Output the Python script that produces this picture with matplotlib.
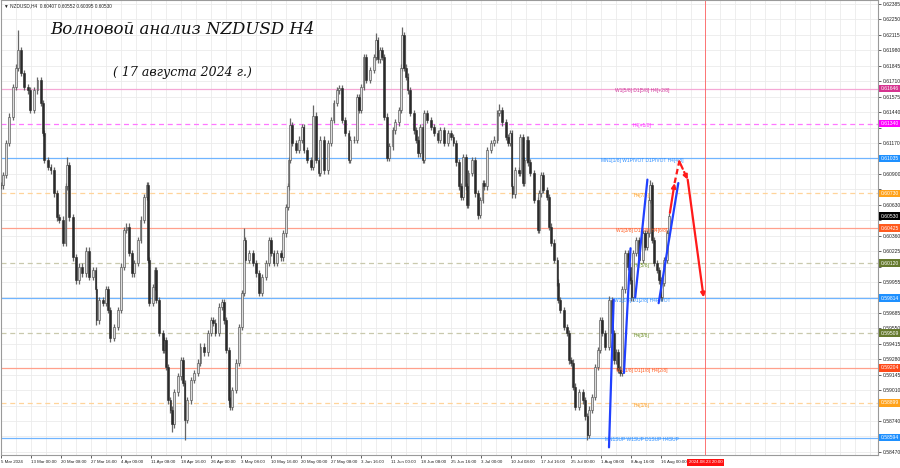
import matplotlib
matplotlib.use("Agg")
import matplotlib.pyplot as plt
import matplotlib.transforms as mtransforms
import numpy as np

# price path (H4 bar index from 5 Mar, close price)
bars = [0, 2, 5, 9, 13, 16, 18, 21, 25, 29, 31, 35, 39, 43, 45, 46, 50, 53, 57, 60, 62, 66, 69, 71, 73, 77, 80, 83,
        87, 91, 94, 98, 101, 102, 105, 109, 112, 114, 116, 121, 125, 128, 131, 134, 137, 140, 142, 146, 149, 153,
        156, 157, 158, 162, 164, 166, 169, 173, 174, 176, 178, 181, 183, 185, 189, 192,
        194, 196, 199, 203, 206, 210, 213, 217, 221, 224, 226, 229, 233, 236, 238, 240, 243, 244, 247, 251, 254,
        257, 259, 261, 265, 269, 272, 275, 279, 283, 286, 288, 291, 295, 299, 301, 304, 306, 307, 309, 311, 315,
        318, 321, 323, 327, 331, 333, 336, 339, 341, 345, 349, 352, 355, 359, 361, 364, 367, 371, 373,
        377, 380, 382, 384, 387, 390, 394, 398, 400, 402, 405, 407, 409, 412, 414, 418, 421, 425, 427, 428, 430,
        432, 434, 437, 441, 443, 445, 447, 450, 452, 455, 459, 462, 466, 469, 473, 477, 480, 483, 486, 489, 491,
        493, 496, 497, 499, 503, 506, 509, 511, 514, 516, 519, 523, 526, 530, 532, 535, 539, 541, 543, 545, 546,
        549, 553, 554, 557, 558, 561, 563,
        565, 569, 573, 574, 576, 579, 583, 585, 587, 590, 594, 595, 597, 601, 604, 606, 608, 611, 613, 617, 621,
        623, 626, 628, 631, 634, 637, 639, 642, 645, 649, 652, 654, 656, 659, 661, 663, 666, 669, 671, 673, 675,
        678, 681, 685, 687, 690, 692, 693, 695, 697, 700, 702, 704, 706, 708, 711, 713]
closes = [0.6080, 0.6089, 0.6117, 0.6140, 0.6166, 0.6183, 0.6198, 0.6178, 0.6166, 0.6163, 0.6146, 0.6163, 0.6172,
          0.6152, 0.6126, 0.6102, 0.6096, 0.6093, 0.6073, 0.6052, 0.6050, 0.6030, 0.6079, 0.6098, 0.6052, 0.6017,
          0.5997, 0.6009, 0.6003, 0.6023, 0.6000, 0.6006, 0.5989, 0.5962, 0.5980, 0.5977, 0.5989, 0.5971, 0.5947,
          0.5956, 0.5971, 0.6009, 0.6041, 0.6044, 0.6021, 0.6003, 0.6012, 0.6032, 0.6050, 0.6070, 0.6080, 0.6015,
          0.5977, 0.5991, 0.6006, 0.5980, 0.5951, 0.5936, 0.5945, 0.5921, 0.5892, 0.5884, 0.5871, 0.5899, 0.5913,
          0.5927,
          0.5907, 0.5875, 0.5892, 0.5910, 0.5916, 0.5925, 0.5939, 0.5934, 0.5951, 0.5962, 0.5960, 0.5951, 0.5974,
          0.5978, 0.5962, 0.5936, 0.5892, 0.5886, 0.5901, 0.5925, 0.5956, 0.5986, 0.6032, 0.6015, 0.6021, 0.6012,
          0.6003, 0.5986, 0.6000, 0.6012, 0.6032, 0.6021, 0.6012, 0.6021, 0.6017, 0.6038, 0.6061, 0.6079, 0.6102,
          0.6133, 0.6117, 0.6111, 0.6120, 0.6131, 0.6111, 0.6102, 0.6096, 0.6141, 0.6102, 0.6091, 0.6120, 0.6093,
          0.6117, 0.6137, 0.6152, 0.6163, 0.6165, 0.6137, 0.6126, 0.6102, 0.6120,
          0.6120, 0.6157, 0.6146, 0.6166, 0.6192, 0.6172, 0.6181, 0.6192, 0.6207, 0.6190, 0.6198, 0.6192, 0.6140,
          0.6104, 0.6114, 0.6128, 0.6135, 0.6146, 0.6183, 0.6211, 0.6183, 0.6175, 0.6163, 0.6143, 0.6128, 0.6120,
          0.6108, 0.6131, 0.6102, 0.6143, 0.6137, 0.6131, 0.6126, 0.6120, 0.6128, 0.6117, 0.6126, 0.6122, 0.6117,
          0.6100, 0.6079, 0.6070, 0.6105, 0.6079, 0.6063, 0.6091, 0.6102, 0.6073, 0.6054, 0.6067, 0.6082, 0.6079,
          0.6111, 0.6117, 0.6120, 0.6143, 0.6146, 0.6135, 0.6122, 0.6117, 0.6126, 0.6079, 0.6072, 0.6093, 0.6091,
          0.6122, 0.6082, 0.6102, 0.6120, 0.6100,
          0.6091, 0.6067, 0.6041, 0.6073, 0.6089, 0.6076, 0.6070, 0.6044, 0.6030, 0.6015, 0.5995, 0.5980, 0.5971,
          0.5956, 0.5951, 0.5927, 0.5925, 0.5904, 0.5886, 0.5899, 0.5892, 0.5878, 0.5862, 0.5884, 0.5895, 0.5921,
          0.5936, 0.5962, 0.5951, 0.5939, 0.5980, 0.5951, 0.5927, 0.5934, 0.5919, 0.5916, 0.5989, 0.6021, 0.6009,
          0.5997, 0.5982, 0.6021, 0.6032, 0.6015, 0.6038, 0.6026, 0.6038, 0.6067, 0.6080, 0.6032, 0.6012, 0.6006,
          0.5997, 0.5982, 0.5995, 0.6015, 0.6038, 0.6053]
# long wicks
spike_bars = [18, 71, 102, 116, 156, 183, 196, 259, 309, 333, 361, 400, 428, 497, 509, 532, 546, 626, 649, 661, 693]
spike_prices = [0.6216, 0.6105, 0.5958, 0.5943, 0.6082, 0.5864, 0.5857, 0.6043, 0.6139, 0.6150, 0.6168, 0.6213,
                0.6218, 0.6060, 0.6051, 0.6151, 0.6069, 0.5857, 0.5983, 0.5914, 0.6085]

date_labels = ["5 Mar 2024", "13 Mar 00:00", "20 Mar 08:00", "27 Mar 16:00", "4 Apr 00:00", "11 Apr 08:00",
               "18 Apr 16:00", "26 Apr 00:00", "3 May 08:00", "10 May 16:00", "20 May 00:00", "27 May 08:00",
               "3 Jun 16:00", "11 Jun 00:00", "18 Jun 08:00", "25 Jun 16:00", "3 Jul 00:00", "10 Jul 08:00",
               "17 Jul 16:00", "25 Jul 00:00", "1 Aug 08:00", "8 Aug 16:00", "16 Aug 00:00"]
price_ticks = [0.62385, 0.62250, 0.62115, 0.61980, 0.61845, 0.61710, 0.61575, 0.61440, 0.61305, 0.61170,
               0.61035, 0.60900, 0.60765, 0.60630, 0.60495, 0.60360, 0.60225, 0.60090, 0.59955, 0.59820,
               0.59685, 0.59550, 0.59415, 0.59280, 0.59145, 0.59010, 0.58875, 0.58740, 0.58605, 0.58470]

# Murrey levels
levels = [0.61646, 0.61340, 0.61035, 0.60730, 0.60425, 0.60120, 0.59814, 0.59509, 0.59204, 0.58899, 0.58594]
level_names = ["W1[5/8] D1[5/8] H4[+2/8]", "H4[+1/8]", "MN1[1/8] W1PIVOT D1PIVOT H4[4/8]", "H4[7/8]",
               "W1[3/8] D1[3/8] H4[6/8]", "H4[5/8]", "W1[2/8] D1[2/8] H4PIVOT", "H4[3/8]",
               "W1[1/8] D1[1/8] H4[2/8]", "H4[1/8]", "MN1SUP W1SUP D1SUP H4SUP"]
line_colors = ["#f5a8d6", "#ff77ff", "#70b5ff", "#ffd49a", "#ffa08c", "#c9c9ad",
               "#70b5ff", "#c9c9ad", "#ffa08c", "#ffd49a", "#70b5ff"]
line_styles = ["-", "--", "-", "--", "-", "--", "-", "--", "-", "--", "-"]
text_colors = ["#d0379a", "#ff33ff", "#2f8fff", "#ff9c1a", "#ff5a1e", "#6b8e23",
               "#2f8fff", "#6b8e23", "#ff5a1e", "#ff9c1a", "#2f8fff"]
box_colors = ["#d6338f", "#ff00ff", "#1e90ff", "#ffa21a", "#ff5a1e", "#667a2e",
              "#1e90ff", "#667a2e", "#ff4a1a", "#ffa21a", "#1e90ff"]

last_price = 0.60530

# wave marks
blue_x = [[649, 654], [665, 672], [677, 690], [702, 723]]
blue_y = [[0.5851, 0.5980], [0.5916, 0.6025], [0.5982, 0.6085], [0.5977, 0.6082]]
red_x = [714, 719, 724, 733, 750]
red_y = [0.6056, 0.6082, 0.6101, 0.6085, 0.5982]
red_ls = ["-", "--", "--", "-"]
red_head = [True, False, True, True]

cursor_bar = 752

fig = plt.figure(figsize=(9, 4.68), dpi=100)
ax = fig.add_axes([0.001, 13 / 468, 877 / 900, 455 / 468])
ax.set_xlim(0, 936)
ax.set_ylim(0.58443, 0.62420)

# grid
for p in price_ticks:
    ax.axhline(p, color="#ebebeb", lw=0.6, zorder=0)
for b in range(0, 937, 16):
    ax.axvline(b, color="#ebebeb", lw=0.6, zorder=0)

# levels
for lv, name, lc, ls, tc in zip(levels, level_names, line_colors, line_styles, text_colors):
    ax.axhline(lv, color=lc, lw=0.9, ls=ls, dashes=(4, 3) if ls == "--" else (None, None), zorder=1)
    ax.annotate(name, (684, lv), xytext=(0, -1.6), textcoords="offset points", ha="center", va="center",
                fontsize=3.5, color=tc, family="Liberation Sans", zorder=5)

# candles
o = np.array([closes[0]] + closes[:-1])
c = np.array(closes)
hi = np.maximum(o, c) + 0.00028
lo = np.minimum(o, c) - 0.00028
x = np.array(bars)
for b, sp in zip(spike_bars, spike_prices):
    i = bars.index(b)
    hi[i] = max(hi[i], sp)
    lo[i] = min(lo[i], sp)
ax.vlines(x, lo, hi, color="#666666", lw=0.9, zorder=3)
up = c >= o
ax.bar(x[up], (c - o)[up], bottom=o[up], width=2.0, color="#dcdcdc", edgecolor="#444444", lw=0.4, zorder=4)
ax.bar(x[~up], (o - c)[~up], bottom=c[~up], width=2.0, color="#2a2a2a", edgecolor="#2a2a2a", lw=0.4, zorder=4)

# wave lines
for bx, by in zip(blue_x, blue_y):
    ax.plot(bx, by, color="#2040ff", lw=1.6, zorder=6, solid_capstyle="round")
for i in range(4):
    if red_head[i]:
        ax.annotate("", xy=(red_x[i + 1], red_y[i + 1]), xytext=(red_x[i], red_y[i]),
                    arrowprops=dict(arrowstyle="-|>", color="#ff1a1a", lw=1.6, ls=red_ls[i],
                                    mutation_scale=6, shrinkA=0, shrinkB=0), zorder=7)
    else:
        ax.plot(red_x[i:i + 2], red_y[i:i + 2], color="#ff1a1a", lw=1.6, ls=red_ls[i],
                dashes=(2.5, 1.5), zorder=7)

ax.axvline(cursor_bar, color="#ff6060", lw=0.6, zorder=2)

# axes
ax.yaxis.tick_right()
ax.set_yticks(price_ticks)
boxed = levels + [last_price]
ax.set_yticklabels(["" if min(abs(p - q) for q in boxed) < 0.0004 else f"{p:.5f}" for p in price_ticks])
ax.set_xticks([32 * i for i in range(len(date_labels))])
ax.set_xticklabels(date_labels)
for lab in ax.get_xticklabels():
    lab.set_horizontalalignment("left")
ax.tick_params(axis="y", labelsize=3.6, length=2, pad=1.5, colors="#222222", width=0.5)
ax.tick_params(axis="x", labelsize=3.2, length=2, pad=1.8, colors="#222222", width=0.5)
for lab in ax.get_xticklabels() + ax.get_yticklabels():
    lab.set_family("Liberation Sans")
for s in ax.spines.values():
    s.set_color("#9a9a9a")
    s.set_linewidth(0.8)

trans = mtransforms.blended_transform_factory(ax.transAxes, ax.transData)
for lv, bc in zip(levels, box_colors):
    ax.text(1.003, lv, f"{lv:.5f}", transform=trans, fontsize=3.6, color="white", va="center", ha="left",
            family="Liberation Sans", bbox=dict(boxstyle="square,pad=0.25", fc=bc, ec="none"), zorder=10,
            clip_on=False)
ax.text(1.003, last_price, f"{last_price:.5f}", transform=trans, fontsize=3.6, color="white", va="center",
        ha="left", family="Liberation Sans", bbox=dict(boxstyle="square,pad=0.25", fc="black", ec="none"),
        zorder=10, clip_on=False)
transx = mtransforms.blended_transform_factory(ax.transData, ax.transAxes)
ax.text(cursor_bar, -0.016, "2024.08.23 20:00", transform=transx, fontsize=3.2, color="white", ha="center",
        va="center", family="Liberation Sans", bbox=dict(boxstyle="square,pad=0.3", fc="#ff1010", ec="none"),
        clip_on=False, zorder=10)

# header and titles
ax.text(0.003, 0.992, "\u25bc NZDUSD,H4  0.60407 0.60552 0.60395 0.60530", transform=ax.transAxes,
        fontsize=3.4, va="top", ha="left", color="#222222", family="Liberation Sans")
ax.text(0.207, 0.935, "Волновой анализ NZDUSD H4", transform=ax.transAxes, fontsize=12, style="italic",
        family="DejaVu Serif", ha="center", va="center", color="#111111", zorder=8)
ax.text(0.207, 0.84, "( 17 августа 2024 г.)", transform=ax.transAxes, fontsize=9, style="italic",
        family="DejaVu Serif", ha="center", va="center", color="#111111", zorder=8)

fig.savefig("out.png", dpi=100)
